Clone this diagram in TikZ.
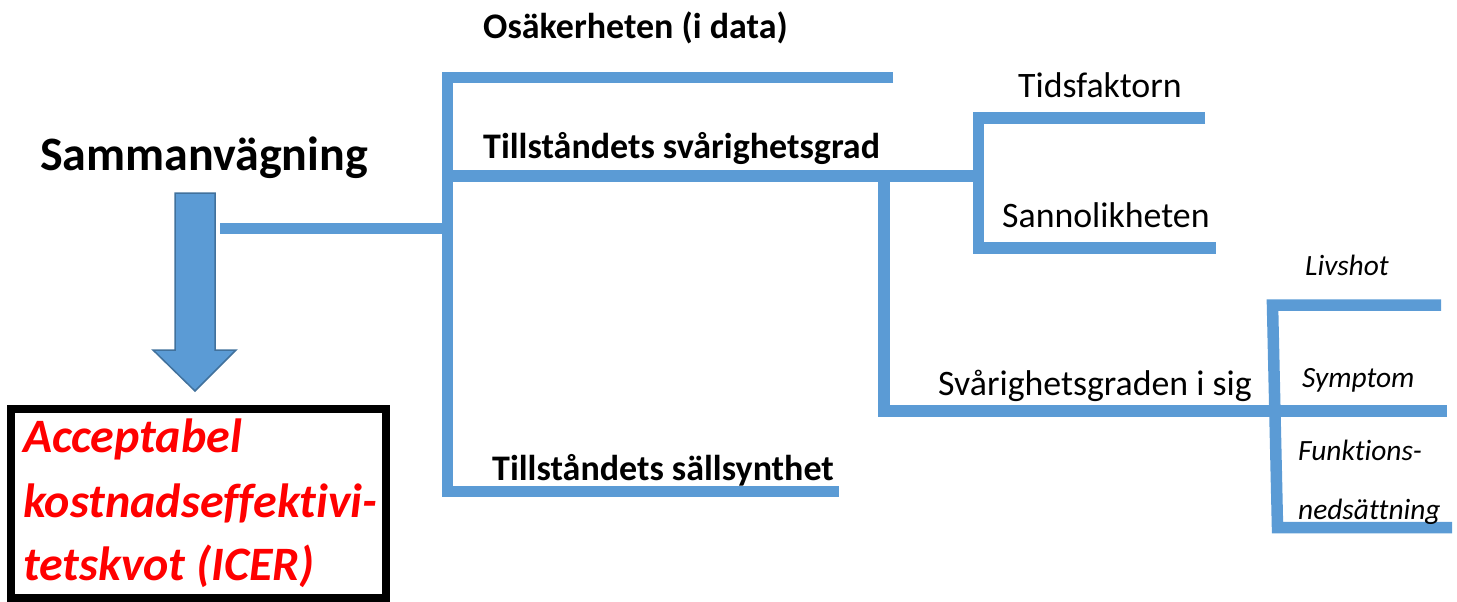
\documentclass[tikz,border=0pt]{standalone}
\usepackage{fontspec}
\setmainfont{Carlito}[Ligatures=NoCommon]
\definecolor{branch}{HTML}{5B9BD5}
\definecolor{arrowedge}{HTML}{41719C}
\definecolor{icer}{HTML}{FF0000}
\begin{document}
\begin{tikzpicture}[x=1pt,y=-1pt,
  branch/.style={draw=branch,line width=11.5pt,line join=miter,line cap=butt},
  lbl/.style={inner sep=0pt,anchor=base west},
  boldlbl/.style={lbl,font=\fontsize{36}{42}\selectfont\bfseries},
  plainlbl/.style={lbl,font=\fontsize{35.8}{42}\selectfont},
  smalllbl/.style={lbl,font=\fontsize{29.4}{34}\selectfont\itshape},
  redlbl/.style={lbl,text=icer,font=\fontsize{48}{56}\selectfont\bfseries\itshape}]
\useasboundingbox (0,0) rectangle (1457,602);

% junction points of the tree
\coordinate (mtop) at (447.5,77.5);
\coordinate (mbot) at (447.5,491.5);
\coordinate (osar) at (893,77.5);
\coordinate (salr) at (839,491.5);
\coordinate (feedl) at (220,228.5);
\coordinate (feedr) at (447.5,228.5);
\coordinate (sval) at (447.5,176);
\coordinate (svar) at (978.5,176);
\coordinate (subtop) at (884,170.25);
\coordinate (subbot) at (884,411);
\coordinate (sigr) at (1447,411);
\coordinate (tidtop) at (978.5,118);
\coordinate (tidbot) at (978.5,248);
\coordinate (tidr) at (1205,118);
\coordinate (sanr) at (1216,248);
\coordinate (livtop) at (1272.5,305);
\coordinate (livbot) at (1277.5,527.5);
\coordinate (livr) at (1441,305);
\coordinate (funr) at (1452,527.5);

% main bracket and its feed
\draw[branch] (osar) -- (mtop) -- (mbot) -- (salr);
\draw[branch] (feedl) -- (feedr);
% severity branch
\draw[branch] (sval) -- (svar);
\draw[branch] (tidr) -- (tidtop) -- (tidbot) -- (sanr);
\draw[branch] (subtop) -- (subbot) -- (sigr);
\draw[branch] (livr) -- (livtop) -- (livbot) -- (funr);

% block arrow
\draw[fill=branch,draw=arrowedge,line width=1.5pt,line join=miter]
  (175,193) -- (215,193) -- (215,350) -- (236,350) -- (195,391)
  -- (153,350) -- (175,350) -- cycle;

% result box
\draw[line width=8pt] (10.5,409) rectangle (385.5,598);

% labels
\node[lbl,font=\fontsize{48}{56}\selectfont\bfseries] (samman) at (40,170) {Sammanvägning};
\node[boldlbl] (osak) at (483,39) {Osäkerheten (i data)};
\node[boldlbl] (svar) at (483,158) {Tillståndets svårighetsgrad};
\node[boldlbl] (sall) at (492,480) {Tillståndets sällsynthet};
\node[plainlbl] (tid) at (1018,98) {Tidsfaktorn};
\node[plainlbl] (sann) at (1002,227) {Sannolikheten};
\node[plainlbl] (isig) at (938,395) {Svårighetsgraden i sig};
\node[smalllbl] (liv) at (1305,275) {Livshot};
\node[smalllbl] (symp) at (1302,387) {Symptom};
\node[smalllbl] (funk1) at (1298,460) {Funktions-};
\node[smalllbl] (funk2) at (1298,519) {nedsättning};
\node[redlbl] (icer1) at (23,452) {Acceptabel};
\node[redlbl] (icer2) at (23,517) {kostnadseffektivi-};
\node[redlbl] (icer3) at (23,580) {tetskvot (ICER)};
\end{tikzpicture}
\end{document}
